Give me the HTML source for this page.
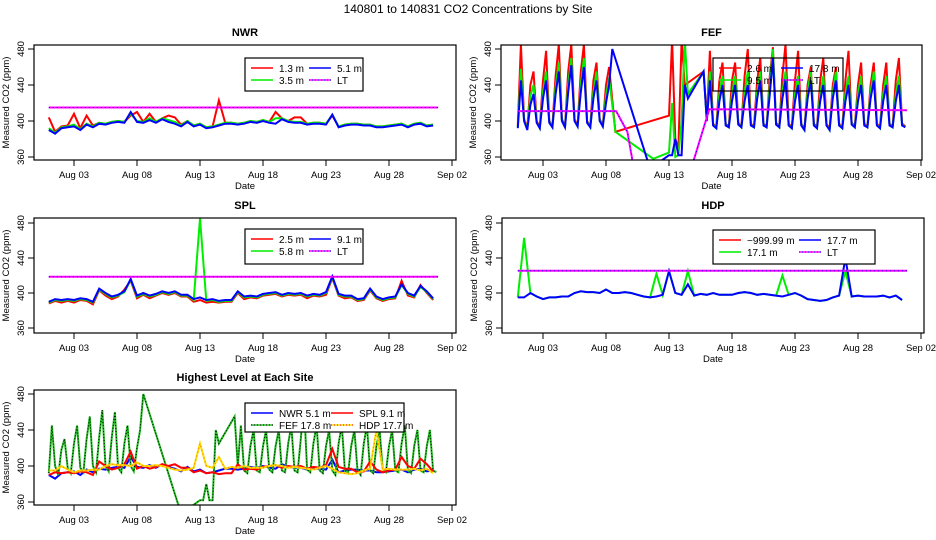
<!DOCTYPE html>
<html><head><meta charset="utf-8">
<style>
body{margin:0;background:#fff;}
svg{display:block;font-family:"Liberation Sans",Arial,sans-serif;}
</style></head>
<body>
<svg id="chart" width="936" height="540" viewBox="0 0 936 540" xmlns="http://www.w3.org/2000/svg">
<text x="468" y="13" text-anchor="middle" font-size="12">140801  to  140831 CO2 Concentrations by Site</text>
</svg>
<script>
// ---- data (days since Aug 01 00:00) ----
const xTickLabels = ["Aug 03","Aug 08","Aug 13","Aug 18","Aug 23","Aug 28","Sep 02"];
const xTickDays = [2,7,12,17,22,27,32];
const yTickLabels = [360,400,440,480];
const halfDayStep = 0.5;
const quarterDayStep = 0.25;
const endDay = 30.9;

const nwrR = [404,388,394,395,408,392,406,395,398,397, 399,400,399,406,410,399,408,399,403,406, 404,396,400,395,397,393,394,423,398,398, 397,398,400,399,401,399,410,403,400,404, 404,397,398,398,397,406,394,396,397,397, 396,396,394,394,395,396,397,394,397,398, 395,396];
const nwrG = [392,387,393,394,396,391,397,394,398,397, 399,400,399,408,400,399,403,399,403,401, 399,395,400,395,397,393,394,396,398,398, 397,398,400,399,401,399,403,403,400,399, 399,397,398,398,397,407,394,396,397,397, 396,396,394,394,395,396,397,394,397,398, 395,396];
const nwrB = [390,386,392,393,394,390,396,393,397,396, 398,399,398,410,399,398,401,398,402,399, 397,394,399,394,396,392,393,395,397,397, 396,397,399,398,400,398,397,402,399,398, 398,396,397,397,396,407,393,395,396,396, 395,395,393,393,394,395,396,393,396,397, 394,395];
const nwrLT = 415;

const splR = [388,391,389,391,389,392,391,387,403,397, 393,396,404,414,394,398,394,397,400,398, 400,396,396,390,392,389,390,389,390,390, 400,393,395,394,397,398,399,396,398,397, 398,394,397,396,398,417,397,394,395,391, 392,403,394,391,393,394,414,397,395,409, 400,392];
const splG = [389,392,391,392,391,393,392,389,404,399, 395,397,401,415,396,399,396,398,401,399, 401,397,397,392,485,391,392,390,391,391, 401,395,396,395,398,399,400,397,399,398, 399,396,398,397,400,418,398,396,396,392, 393,404,395,392,394,395,409,399,396,407, 401,393];
const splB = [390,393,392,393,392,394,393,390,405,400, 396,398,402,416,397,400,397,399,402,400, 402,398,398,393,395,392,393,391,392,392, 402,396,397,396,399,400,401,398,400,399, 400,397,399,398,401,419,399,397,397,393, 394,405,396,393,395,396,410,400,397,408, 402,394];
const splLT = 418.5;

const hdpG = [395,463,400,396,393,395,395,396,396,400, 402,401,401,400,404,400,400,401,400,398, 396,395,422,398,425,400,398,425,397,399, 398,400,398,398,398,400,401,400,398,399, 398,397,420,398,400,397,393,392,391,392, 395,397,425,396,397,396,396,396,397,395, 397,392];
const hdpB = [395,395,400,396,393,395,395,396,396,400, 402,401,401,400,404,400,400,401,400,398, 396,395,396,398,425,400,398,410,397,399, 398,400,398,398,398,400,401,400,398,399, 398,397,396,398,400,397,393,392,391,392, 395,397,440,396,397,396,396,396,397,395, 397,392];
const hdpLT = 425.5;

const fefR = [395,485,402,392, 440,455,400,393, 445,478,400,394, 450,485,402,394, 455,485,402,395, 455,485,400,394, 445,465,402,395, 440,460,null,388,
 null,null,null,null, null,null,null,null, null,null,null,null, null,null,null,null,
 406,490,380,370, 490,440,null,null, null,null,null,455,
 402,478,397,393, 445,465,397,394, 445,465,398,394, 450,480,397,394, 445,470,397,394, 450,482,398,394, 450,485,397,393, 445,478,397,391,
 440,460,397,393, 445,470,397,391, 440,460,397,393, 445,478,398,394, 440,465,397,394, 440,465,397,393, 440,465,397,394, 445,470,397,394];
const fefG = [393,458,401,391, 428,440,399,392, 432,455,399,393, 438,465,401,393, 440,470,401,394, 440,470,399,393, 432,455,401,394, 428,448,null,388,
 null,null,null,null, null,null,null,null, null,null,null,358, null,null,null,null,
 365,420,360,362, 400,490,430,null, null,null,null,455,
 401,455,396,392, 430,450,396,393, 430,450,397,393, 432,455,396,393, 432,455,396,393, 440,480,397,393, 432,455,396,392, 430,450,396,390,
 432,455,396,392, 430,450,396,390, 432,455,396,392, 430,450,397,393, 430,450,396,393, 432,455,396,392, 430,450,396,393, 430,450,396,393];
const fefB = [392,445,400,390, 418,430,398,392, 425,445,398,393, 430,455,400,393, 432,462,400,394, 432,460,398,393, 425,445,400,394, 420,440,480,null,
 null,null,null,null, null,null,null,null, null,null,347,null, null,null,null,null,
 362,362,380,362, 362,440,425,null, null,null,null,455,
 400,445,395,392, 422,440,395,393, 422,440,396,393, 422,440,395,393, 425,445,395,393, 430,470,396,393, 425,445,395,392, 422,440,395,390,
 425,445,395,392, 422,440,395,390, 425,445,395,392, 422,440,396,393, 422,440,395,393, 425,445,395,392, 422,440,395,393, 422,440,395,393];
const fefLTt = [0,7.8,8.7,9.3,13.6,15.2,30.9];
const fefLTv = [411,411,388,340,340,413,412];

// ---- drawing ----
const NS = "http://www.w3.org/2000/svg";
const svg = document.getElementById('chart');
function el(tag, attrs, parent){ const e=document.createElementNS(NS,tag); for(const k in attrs) e.setAttribute(k,attrs[k]); (parent||svg).appendChild(e); return e; }

const panels = {
  nwr:{name:"NWR", bx0:34,bx1:456,by0:45,by1:160,y480:49,y360:157,x0:48.8,pd:12.6},
  fef:{name:"FEF", bx0:501,bx1:922,by0:45,by1:160,y480:49,y360:157,x0:517.8,pd:12.6},
  spl:{name:"SPL", bx0:34,bx1:456,by0:218,by1:333,y480:223,y360:328,x0:48.8,pd:12.6},
  hdp:{name:"HDP", bx0:502,bx1:924,by0:218,by1:333,y480:223,y360:328,x0:517.8,pd:12.6},
  all:{name:"Highest Level at Each Site", bx0:34,bx1:456,by0:390,by1:505,y480:394,y360:502,x0:48.8,pd:12.6}
};
function xs(p,t){ return p.x0 + t*p.pd; }
function ys(p,v){ return p.y360 - (v-360)*(p.y360-p.y480)/120; }

let clipN=0;
function drawPanel(key){
  const p = panels[key];
  const g = el('g',{});  
  const cx=(p.bx0+p.bx1)/2;
  const t = el('text',{x:cx,y:p.by0-9,'text-anchor':'middle','font-size':'11','font-weight':'bold'},g);
    t.textContent=p.name;
  xTickDays.forEach((d,i)=>{
    const x=xs(p,d);
    const tk=el('line',{x1:x,x2:x,y1:p.by1,y2:p.by1+6,stroke:'#000','stroke-width':1},g);
     
    const tl=el('text',{x:x,y:p.by1+18,'text-anchor':'middle','font-size':'9.5'},g);
      tl.textContent=xTickLabels[i];
  });
  yTickLabels.forEach(v=>{
    const y=ys(p,v);
    const tk=el('line',{x1:p.bx0-6,x2:p.bx0,y1:y,y2:y,stroke:'#000','stroke-width':1},g);
     
    const tl=el('text',{x:0,y:0,'text-anchor':'middle','font-size':'9.5',transform:`translate(${p.bx0-10},${y}) rotate(-90)`},g);
      tl.textContent=v;
  });
  const xl=el('text',{x:cx,y:p.by1+29,'text-anchor':'middle','font-size':'9.5'},g);
    xl.textContent='Date';
  const yl=el('text',{x:0,y:0,'text-anchor':'middle','font-size':'9.5',transform:`translate(${p.bx0-25},${(p.by0+p.by1)/2}) rotate(-90)`},g);
    yl.textContent='Measured CO2 (ppm)';
  const cid='clip'+(clipN++);
  const cp=el('clipPath',{id:cid},g); el('rect',{x:p.bx0,y:p.by0,width:p.bx1-p.bx0,height:p.by1-p.by0},cp);
  const plot=el('g',{'clip-path':`url(#${cid})`},g);
   
  p.g=g; p.plot=plot; return p;
}
function drawBox(p){
  const b=el('rect',{x:p.bx0,y:p.by0,width:p.bx1-p.bx0,height:p.by1-p.by0,fill:'none',stroke:'#000','stroke-width':1.2},p.g);
   
}
function series(p, vals, step, color, w, name, dash){
  let d='';
  vals.forEach((v,i)=>{ if(v===null) return; d += (d?'L':'M') + xs(p,i*step).toFixed(1)+','+ys(p,v).toFixed(1); });
  const path=el('path',{d:d,fill:'none',stroke:color,'stroke-width':w,'stroke-linejoin':'miter'},p.plot);
  if(dash) path.setAttribute('stroke-dasharray',dash);
   
  return path;
}
function ltLine(p, ts, vs, name){
  let d='';
  ts.forEach((t,i)=>{ d += (i?'L':'M')+xs(p,t).toFixed(1)+','+ys(p,vs[i]).toFixed(1); });
  const a=el('path',{d:d,fill:'none',stroke:'#ff00ff','stroke-width':2},p.plot);
   
  const b=el('path',{d:d,fill:'none',stroke:'#0000ff','stroke-width':1,'stroke-dasharray':'1 3'},p.plot);
   
}
function legend(p, x, y, w, h, items, fill, colW){
  const lg=el('g',{},p.g);  
  el('rect',{x:x,y:y,width:w,height:h,fill:fill,stroke:'#000','stroke-width':1.2},lg);
  items.forEach((it,i)=>{
    const col=i%2, row=Math.floor(i/2);
    const lx=x+6+col*colW, ly=y+10+row*12;
    const ln=el('line',{x1:lx,x2:lx+22,y1:ly,y2:ly,stroke:it.c,'stroke-width':1.5},lg);
    if(it.d){ el('line',{x1:lx,x2:lx+22,y1:ly,y2:ly,stroke:it.d,'stroke-width':1,'stroke-dasharray':'1 2'},lg); }
     
    const tx=el('text',{x:lx+28,y:ly+4,'font-size':'10'},lg);
      tx.textContent=it.t;
  });
}

// NWR
let p=drawPanel('nwr');
series(p,nwrR,halfDayStep,'#ff0000',2,'nwr-1.3m-line');
series(p,nwrG,halfDayStep,'#00ee00',2,'nwr-3.5m-line');
series(p,nwrB,halfDayStep,'#0000ff',2,'nwr-5.1m-line');
ltLine(p,[0,endDay],[nwrLT,nwrLT],'nwr-lt-line');
drawBox(p);
legend(p,245,58,118,33,[{t:'1.3 m',c:'#f00'},{t:'5.1 m',c:'#00f'},{t:'3.5 m',c:'#0e0'},{t:'LT',c:'#f0f',d:'#00f'}],'#fff',58);

// FEF
p=drawPanel('fef');
series(p,fefR,quarterDayStep,'#ff0000',2,'fef-2.6m-line');
series(p,fefG,quarterDayStep,'#00ee00',2,'fef-9.5m-line');
series(p,fefB,quarterDayStep,'#0000ff',2,'fef-17.8m-line');
ltLine(p,fefLTt,fefLTv,'fef-lt-line');
drawBox(p);
legend(p,713,58,130,33,[{t:'2.6 m',c:'#f00'},{t:'17.8 m',c:'#00f'},{t:'9.5 m',c:'#0e0'},{t:'LT',c:'#f0f',d:'#00f'}],'none',62);

// SPL
p=drawPanel('spl');
series(p,splR,halfDayStep,'#ff0000',2,'spl-2.5m-line');
series(p,splG,halfDayStep,'#00ee00',2,'spl-5.8m-line');
series(p,splB,halfDayStep,'#0000ff',2,'spl-9.1m-line');
ltLine(p,[0,endDay],[splLT,splLT],'spl-lt-line');
drawBox(p);
legend(p,245,229,118,35,[{t:'2.5 m',c:'#f00'},{t:'9.1 m',c:'#00f'},{t:'5.8 m',c:'#0e0'},{t:'LT',c:'#f0f',d:'#00f'}],'#fff',58);

// HDP
p=drawPanel('hdp');
series(p,hdpG,halfDayStep,'#00ee00',2,'hdp-17.1m-line');
series(p,hdpB,halfDayStep,'#0000ff',2,'hdp-17.7m-line');
ltLine(p,[0,endDay],[hdpLT,hdpLT],'hdp-lt-line');
drawBox(p);
legend(p,713,230,162,34,[{t:'\u2212999.99 m',c:'#f00'},{t:'17.7 m',c:'#00f'},{t:'17.1 m',c:'#0e0'},{t:'LT',c:'#f0f',d:'#00f'}],'#fff',80);

// Highest level
p=drawPanel('all');
series(p,nwrB,halfDayStep,'#0000ff',2,'all-nwr-5.1m-line');
series(p,fefB,quarterDayStep,'#22bb22',2,'all-fef-17.8m-line');
series(p,fefB,quarterDayStep,'#000000',1,'all-fef-17.8m-dots','1 2');
series(p,splB,halfDayStep,'#ff0000',2,'all-spl-9.1m-line');
series(p,hdpB,halfDayStep,'#ffdd00',2,'all-hdp-17.7m-line');
series(p,hdpB,halfDayStep,'#ff6600',1,'all-hdp-17.7m-dots','1 3');
drawBox(p);
legend(p,245,403,159,29,[{t:'NWR  5.1 m',c:'#00f'},{t:'SPL  9.1 m',c:'#f00'},{t:'FEF  17.8 m',c:'#2b2',d:'#000'},{t:'HDP  17.7 m',c:'#fd0',d:'#f00'}],'#fff',80);
</script>
</body></html>
